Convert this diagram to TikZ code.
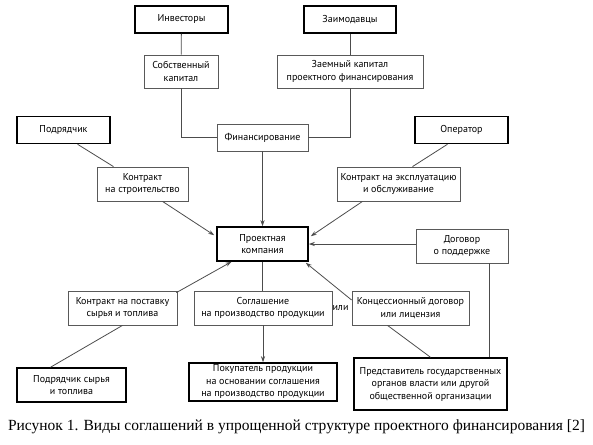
\documentclass[tikz,border=0pt]{standalone}
\usepackage{fontspec}
\setmainfont{PT Sans}
\newfontfamily\captionfont{Liberation Serif}
\usetikzlibrary{positioning}
\usetikzlibrary{arrows.meta}

\begin{document}
\begin{tikzpicture}[x=1pt, y=-1pt,
        party/.style={draw=black, line width=1.5pt, align=center, inner sep=1pt,
            font=\fontsize{10}{12.5}\selectfont},
        deal/.style={draw=black!65, line width=0.8pt, align=center, inner sep=1pt,
            font=\fontsize{10}{12.5}\selectfont},
        link/.style={draw=black!70, line width=0.8pt},
        flow/.style={link, -{Stealth[length=6pt, width=4pt]}}]
        \useasboundingbox (0,0) rectangle (593,444);

        \node[party, minimum width=93, minimum height=27] (investors) at (181.5,19.5) {Инвесторы};
        \node[party, minimum width=92, minimum height=27] (lenders) at (350,19.5) {Заимодавцы};
        \node[deal, minimum width=74, minimum height=33] (equity) at (181,71.5) {Собственный\\капитал};
        \node[deal, minimum width=146, minimum height=33] (debt) at (350,71.5) {Заемный капитал\\проектного финансирования};
        \node[deal, minimum width=91, minimum height=27] (funding) at (262.5,137.5) {Финансирование};

        \node[party, minimum width=93, minimum height=27] (builder) at (63.5,130) {Подрядчик};
        \node[party, minimum width=93, minimum height=27] (operator) at (461.5,130) {Оператор};
        \node[deal, minimum width=91, minimum height=34] (buildContract) at (142.5,184) {Контракт\\на строительство};
        \node[deal, minimum width=123, minimum height=34] (opContract) at (398.5,184) {Контракт на эксплуатацию\\и обслуживание};

        \node[party, minimum width=91, minimum height=34] (company) at (262.5,244) {Проектная\\компания};
        \node[deal, minimum width=92, minimum height=34] (support) at (462,246) {Договор\\о поддержке};

        \node[deal, minimum width=109, minimum height=34] (supplyContract) at (122.5,308) {Контракт на поставку\\сырья и топлива};
        \node[deal, minimum width=138, minimum height=34] (offtake) at (263,308) {Соглашение\\на производство продукции};
        \node (orLabel) at (340.5,308) [font=\fontsize{10}{12.5}\selectfont, inner sep=0pt] {или};
        \node[deal, minimum width=117, minimum height=34] (concession) at (410.5,308) {Концессионный договор\\или лицензия};

        \node[party, minimum width=109, minimum height=34] (supplier) at (71.5,385) {Подрядчик сырья\\и топлива};
        \node[party, minimum width=148, minimum height=38] (buyer) at (263,382) {Покупатель продукции\\на основании соглашения\\на производство продукции};
        \node[party, minimum width=153, minimum height=52] (government) at (430.5,384) {Представитель государственных\\органов власти или другой\\общественной организации};

        \node (caption) at (296.5,427) [font=\captionfont\fontsize{15.5}{18}\selectfont] {Рисунок 1. Виды соглашений в упрощенной структуре проектного финансирования [2]};

        \draw[link] (investors) -- (equity);
        \draw[link] (lenders.south) -- (lenders.south |- debt.north);
        \draw[link] (equity.south) |- (funding.west);
        \draw[link] (debt.south -| lenders.south) |- (funding.east);
        \draw[flow] (funding) -- (company);

        \draw[link] ([xshift=14]builder.south) -- ([xshift=-29]buildContract.north);
        \draw[flow] ([xshift=20]buildContract.south) -- ([xshift=-2, yshift=-9]company.north west);
        \draw[link] ([xshift=-14]operator.south) -- ([xshift=14]opContract.north);
        \draw[flow] ([xshift=-36]opContract.south) -- ([xshift=2, yshift=-10]company.north east);
        \draw[flow] (support.west |- company.east) -- (company.east);
        \draw[link] ([xshift=27]support.south) -- ([xshift=27]support.south |- government.north);

        \draw[flow] ([xshift=-1, yshift=-2]supplyContract.north east) -- ([xshift=-31]company.south);
        \draw[link] (supplyContract.south) -- ([xshift=-21]supplier.north);
        \draw[link] (company.south) -- (company.south |- offtake.north);
        \draw[flow] (offtake.south) -- (offtake.south |- buyer.north);
        \draw[flow] ([yshift=8]concession.west) -- ([xshift=-3, yshift=-1]company.south east);
        \draw[link] ([xshift=-23]concession.south) -- (government.north);
    \end{tikzpicture}
\end{document}
